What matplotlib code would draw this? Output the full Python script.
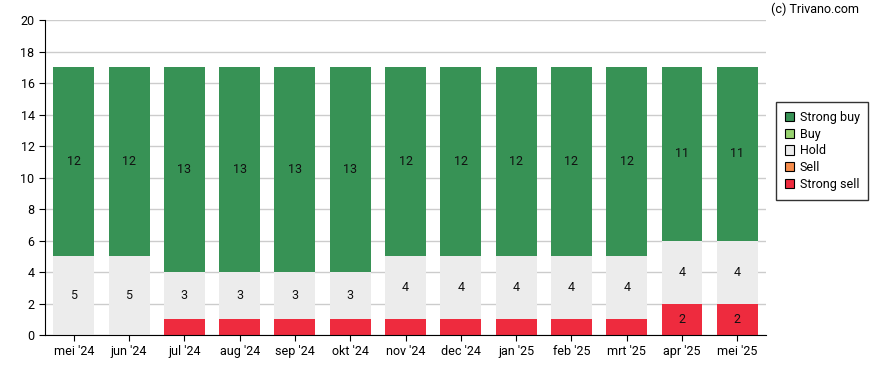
import matplotlib.pyplot as plt
import numpy as np

plt.rcParams['font.family'] = ['Roboto', 'DejaVu Sans']

months = ["mei '24", "jun '24", "jul '24", "aug '24", "sep '24", "okt '24", "nov '24",
          "dec '24", "jan '25", "feb '25", "mrt '25", "apr '25", "mei '25"]
strong_sell = [0, 0, 1, 1, 1, 1, 1, 1, 1, 1, 1, 2, 2]
sell = [0] * 13
hold = [5, 5, 3, 3, 3, 3, 4, 4, 4, 4, 4, 4, 4]
buy = [0] * 13
strong_buy = [12, 12, 13, 13, 13, 13, 12, 12, 12, 12, 12, 11, 11]

series = [
    ('Strong sell', strong_sell, '#ee2b3e'),
    ('Sell', sell, '#f68c4b'),
    ('Hold', hold, '#ececec'),
    ('Buy', buy, '#97d26f'),
    ('Strong buy', strong_buy, '#379255'),
]

fig = plt.figure(figsize=(8.88, 3.70), dpi=100)
ax = fig.add_axes([0.0507, 0.0946, 0.812, 0.851])

x = np.arange(len(months))
bottom = np.zeros(len(months))
handles = {}
for name, vals, color in series:
    vals = np.array(vals)
    bars = ax.bar(x, vals, 0.74, bottom=bottom, color=color, zorder=2)
    handles[name] = bars
    for xi, b, v in zip(x, bottom, vals):
        if v >= 2:
            ax.text(xi, b + v / 2, str(v), ha='center', va='center', fontsize=9, color='#111111', zorder=3)
    bottom += vals

ax.set_xlim(-0.52, 12.52)
ax.set_ylim(0, 20)
ax.set_yticks(range(0, 21, 2))
ax.set_xticks(x)
ax.set_xticklabels(months)
ax.tick_params(labelsize=9, length=4)
ax.grid(axis='y', color='#cccccc', linewidth=1, zorder=0)
ax.spines['top'].set_visible(False)
ax.spines['right'].set_visible(False)

order = ['Strong buy', 'Buy', 'Hold', 'Sell', 'Strong sell']
leg = ax.legend([handles[n] for n in order], order, loc='center left', bbox_to_anchor=(1.005, 0.585),
                fontsize=9, frameon=True, fancybox=False, edgecolor='black',
                handlelength=0.75, handleheight=0.75, handletextpad=0.45, borderpad=0.7, labelspacing=0.3)
leg.get_frame().set_linewidth(1)
for h in leg.legend_handles:
    h.set_edgecolor('black')
    h.set_linewidth(0.8)

fig.text(0.918, 0.975, '(c) Trivano.com', ha='center', va='center', fontsize=9)

fig.savefig('out.png', dpi=100)
